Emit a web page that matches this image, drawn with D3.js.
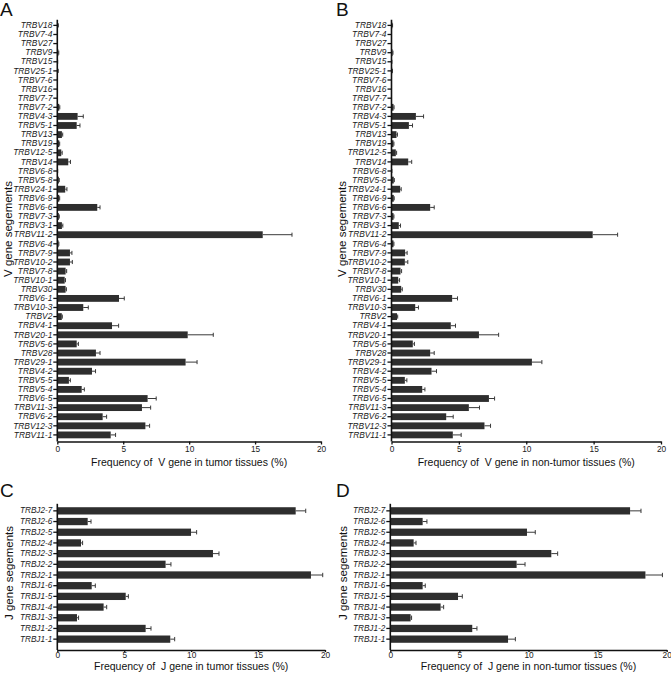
<!DOCTYPE html>
<meta charset="utf-8">
<html>
<head>
  <style>
    body {
      margin: 0;
      background: #fff;
      font-family: "Liberation Sans", Arial, sans-serif;
    }
    svg { display: block; }
    .tick text { fill: #1a1a1a; }
    .ylab text { font-style: italic; }
  </style>
</head>
<body>
<svg width="671" height="674"></svg>
<script src="https://d3js.org/d3.v7.min.js"></script>
<script>
  // V gene segments, top to bottom as in the figure
  const vGenes = ["TRBV18", "TRBV7-4", "TRBV27", "TRBV9", "TRBV15", "TRBV25-1", "TRBV7-6", "TRBV16",
    "TRBV7-7", "TRBV7-2", "TRBV4-3", "TRBV5-1", "TRBV13", "TRBV19", "TRBV12-5", "TRBV14", "TRBV6-8",
    "TRBV5-8", "TRBV24-1", "TRBV6-9", "TRBV6-6", "TRBV7-3", "TRBV3-1", "TRBV11-2", "TRBV6-4", "TRBV7-9",
    "TRBV10-2", "TRBV7-8", "TRBV10-1", "TRBV30", "TRBV6-1", "TRBV10-3", "TRBV2", "TRBV4-1", "TRBV20-1",
    "TRBV5-6", "TRBV28", "TRBV29-1", "TRBV4-2", "TRBV5-5", "TRBV5-4", "TRBV6-5", "TRBV11-3", "TRBV6-2",
    "TRBV12-3", "TRBV11-1"];

  const vTumor = [0.05, 0, 0, 0.08, 0.02, 0.05, 0, 0, 0, 0.15, 1.54, 1.47, 0.35, 0.15, 0.3, 0.83, 0.02,
    0.12, 0.6, 0.15, 3.03, 0.12, 0.35, 15.58, 0.1, 0.96, 0.96, 0.63, 0.56, 0.63, 4.68, 1.97, 0.34, 4.15,
    9.89, 1.47, 2.93, 9.73, 2.63, 0.88, 1.85, 6.85, 6.42, 3.44, 6.68, 4.05];
  const vTumorSem = [0.03, 0, 0, 0.03, 0.01, 0.02, 0, 0, 0, 0.04, 0.43, 0.25, 0.06, 0.03, 0.07, 0.17, 0.01,
    0.03, 0.13, 0.03, 0.21, 0.03, 0.07, 2.22, 0.02, 0.15, 0.18, 0.08, 0.06, 0.06, 0.4, 0.38, 0.04, 0.5,
    1.94, 0.13, 0.31, 0.87, 0.27, 0.11, 0.2, 0.65, 0.66, 0.3, 0.32, 0.37];

  const vNonTumor = [0.05, 0, 0, 0.08, 0.02, 0.05, 0, 0, 0, 0.15, 1.81, 1.29, 0.37, 0.15, 0.32, 1.24, 0.02,
    0.17, 0.64, 0.17, 2.87, 0.15, 0.54, 14.93, 0.15, 1.01, 0.99, 0.67, 0.5, 0.72, 4.5, 1.76, 0.41, 4.4,
    6.49, 1.58, 2.87, 10.42, 2.97, 0.99, 2.28, 7.23, 5.74, 4.06, 6.9, 4.55];
  const vNonTumorSem = [0.03, 0, 0, 0.03, 0.01, 0.02, 0, 0, 0, 0.04, 0.57, 0.27, 0.07, 0.03, 0.06, 0.26, 0.01,
    0.04, 0.08, 0.03, 0.3, 0.03, 0.13, 1.85, 0.03, 0.15, 0.22, 0.08, 0.1, 0.08, 0.4, 0.24, 0.05, 0.35,
    1.46, 0.12, 0.3, 0.74, 0.37, 0.15, 0.2, 0.42, 0.79, 0.52, 0.45, 0.62];

  // J gene segments
  const jGenes = ["TRBJ2-7", "TRBJ2-6", "TRBJ2-5", "TRBJ2-4", "TRBJ2-3", "TRBJ2-2", "TRBJ2-1",
    "TRBJ1-6", "TRBJ1-5", "TRBJ1-4", "TRBJ1-3", "TRBJ1-2", "TRBJ1-1"];
  const jTumor = [17.81, 2.27, 9.99, 1.77, 11.63, 8.09, 18.95, 2.57, 5.11, 3.46, 1.47, 6.6, 8.44];
  const jTumorSem = [0.75, 0.25, 0.42, 0.12, 0.45, 0.4, 0.88, 0.27, 0.2, 0.23, 0.12, 0.4, 0.33];
  const jNonTumor = [17.35, 2.34, 9.89, 1.69, 11.65, 9.14, 18.46, 2.34, 4.9, 3.64, 1.47, 5.93, 8.52];
  const jNonTumorSem = [0.79, 0.31, 0.6, 0.17, 0.46, 0.61, 1.23, 0.19, 0.31, 0.22, 0.07, 0.34, 0.53];

  const xTicks = [0, 5, 10, 15, 20];

  const svg = d3.select("svg");

  function panel(opt) {
    const g = svg.append("g");
    const data = opt.genes.map((name, i) => ({ name, v: opt.values[i], e: opt.sem[i] }));

    const x = d3.scaleLinear().domain([0, 20]).range([opt.x0, opt.x1]);
    const y = d3.scaleBand().domain(opt.genes).range([opt.y0, opt.y1]).padding(opt.pad);

    // bars
    g.selectAll("rect.bar")
      .data(data)
      .enter().append("rect")
      .attr("class", "bar")
      .attr("x", x(0))
      .attr("y", d => y(d.name))
      .attr("width", d => x(d.v) - x(0))
      .attr("height", y.bandwidth())
      .attr("fill", "#2e2e2e");

    // one-sided error bars
    const eb = g.selectAll("g.err")
      .data(data.filter(d => d.e > 0))
      .enter().append("g")
      .attr("class", "err")
      .attr("stroke", "#3a3a3a")
      .attr("stroke-width", 1);
    eb.append("line")
      .attr("x1", d => x(d.v))
      .attr("x2", d => x(d.v + d.e))
      .attr("y1", d => y(d.name) + y.bandwidth() / 2)
      .attr("y2", d => y(d.name) + y.bandwidth() / 2);
    eb.append("line")
      .attr("x1", d => x(d.v + d.e))
      .attr("x2", d => x(d.v + d.e))
      .attr("y1", d => y(d.name) + y.bandwidth() * 0.2)
      .attr("y2", d => y(d.name) + y.bandwidth() * 0.8);

    // y axis
    const ya = g.append("g")
      .attr("class", "ylab")
      .attr("transform", `translate(${x(0)},0)`)
      .call(d3.axisLeft(y).tickSize(4).tickPadding(1).tickSizeOuter(0));
    ya.select(".domain").remove();
    ya.selectAll(".tick line").attr("stroke", "#111").attr("stroke-width", 1.3);
    ya.selectAll("text").style("font-size", opt.labelSize + "px");
    g.append("line")
      .attr("x1", x(0)).attr("x2", x(0))
      .attr("y1", opt.y0).attr("y2", opt.axisY)
      .attr("stroke", "#111").attr("stroke-width", 1.6);

    // x axis
    const xa = g.append("g")
      .attr("transform", `translate(0,${opt.axisY})`)
      .call(d3.axisBottom(x).tickValues(xTicks).tickSize(opt.xTick).tickPadding(opt.xPad).tickSizeOuter(0));
    xa.select(".domain").attr("stroke", "#111").attr("stroke-width", 1.6);
    xa.selectAll(".tick line").attr("stroke", "#111").attr("stroke-width", 1.3);
    xa.selectAll("text").style("font-size", "8.3px");

    g.append("text")
      .attr("x", (opt.x0 + opt.x1) / 2)
      .attr("y", opt.axisY + opt.titleDy)
      .attr("text-anchor", "middle")
      .style("font-size", "10.5px")
      .style("white-space", "pre")
      .attr("fill", "#111")
      .text(opt.xTitle);

    g.append("text")
      .attr("transform", `translate(${opt.yTitleX},${opt.yTitleY}) rotate(-90)`)
      .attr("text-anchor", "middle")
      .style("font-size", "11.5px")
      .attr("fill", "#111")
      .text(opt.yTitle);

    g.append("text")
      .attr("x", opt.letterX)
      .attr("y", opt.letterY)
      .style("font-size", "19px")
      .attr("fill", "#111")
      .text(opt.letter);
  }

  panel({
    letter: "A", letterX: 0, letterY: 16,
    genes: vGenes, values: vTumor, sem: vTumorSem,
    x0: 57.3, x1: 321, y0: 19.7, y1: 440.6, axisY: 441.5, pad: 0.25, labelSize: 8.4,
    xTick: 3, xPad: 2, titleDy: 24,
    xTitle: "Frequency of  V gene in tumor tissues (%)",
    yTitle: "V gene segements", yTitleX: 12, yTitleY: 229
  });
  panel({
    letter: "B", letterX: 336, letterY: 16,
    genes: vGenes, values: vNonTumor, sem: vNonTumorSem,
    x0: 391.5, x1: 661, y0: 19.7, y1: 440.6, axisY: 441.5, pad: 0.25, labelSize: 8.4,
    xTick: 3, xPad: 2, titleDy: 24,
    xTitle: "Frequency of  V gene in non-tumor tissues (%)",
    yTitle: "V gene segements", yTitleX: 346, yTitleY: 229
  });
  panel({
    letter: "C", letterX: 0, letterY: 497,
    genes: jGenes, values: jTumor, sem: jTumorSem,
    x0: 57.3, x1: 325, y0: 503.8, y1: 646.2, axisY: 650, pad: 0.32, labelSize: 8.2,
    xTick: 2, xPad: 0, titleDy: 19.8,
    xTitle: "Frequency of  J gene in tumor tissues (%)",
    yTitle: "J gene segements", yTitleX: 13, yTitleY: 573
  });
  panel({
    letter: "D", letterX: 336, letterY: 497,
    genes: jGenes, values: jNonTumor, sem: jNonTumorSem,
    x0: 390.3, x1: 666.7, y0: 503.8, y1: 646.2, axisY: 650, pad: 0.32, labelSize: 8.2,
    xTick: 2, xPad: 0, titleDy: 19.8,
    xTitle: "Frequency of  J gene in non-tumor tissues (%)",
    yTitle: "J gene segements", yTitleX: 347, yTitleY: 573
  });
</script>
</body>
</html>
